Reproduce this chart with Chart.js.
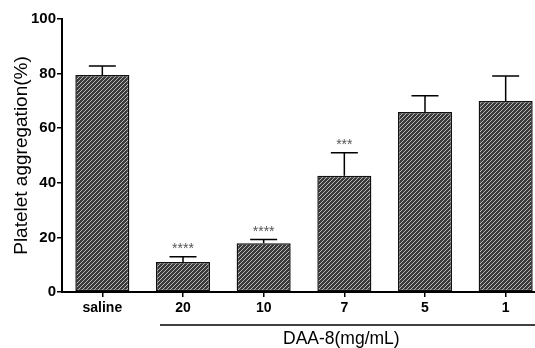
<!DOCTYPE html>
<html>
<head>
<meta charset="utf-8">
<script src="https://cdn.jsdelivr.net/npm/chart.js@4.4.0/dist/chart.umd.min.js"></script>
<style>
  html, body { margin: 0; padding: 0; background: #fff; overflow: hidden; }
  #wrap { width: 550px; height: 348px; }
</style>
</head>
<body>
<div id="wrap"><canvas id="chart" width="550" height="348"></canvas></div>
<script>
const categories = ['saline', '20', '10', '7', '5', '1'];
const meanValues = [79.5, 11.0, 17.9, 42.6, 65.9, 70.0];
const errorTops = [82.8, 12.9, 19.2, 51.0, 71.9, 79.1];
const marks = ['', '****', '****', '***', '', ''];
const yTicks = [0, 20, 40, 60, 80, 100];
const groupLabel = 'DAA-8(mg/mL)';

const FONT = 'Arial, "Liberation Sans", sans-serif';

// hatch pattern like the original ("/" stripes)
function makeHatch() {
    const c = document.createElement('canvas');
    c.width = 4; c.height = 4;
    const g = c.getContext('2d');
    g.fillStyle = '#3a3a3a';
    g.fillRect(0, 0, 4, 4);
    g.fillStyle = '#b8b8b8';
    for (let i = 0; i < 4; i++) g.fillRect(i, 3 - i, 1, 1);
    return g.createPattern(c, 'repeat');
}

const extras = {
    id: 'extras',
    afterDatasetsDraw(chart) {
        const ctx = chart.ctx;
        const x = chart.scales.x, y = chart.scales.y;
        const meta = chart.getDatasetMeta(0);
        ctx.save();
        ctx.strokeStyle = '#000';
        ctx.lineWidth = 1.5;
        meta.data.forEach((bar, i) => {
            const cx = bar.x;
            const top = y.getPixelForValue(errorTops[i]);
            ctx.beginPath();
            ctx.moveTo(cx, bar.y);
            ctx.lineTo(cx, top);
            ctx.moveTo(cx - 13.5, top);
            ctx.lineTo(cx + 13.5, top);
            ctx.stroke();
            if (marks[i]) {
                ctx.fillStyle = '#555';
                ctx.font = '14px ' + FONT;
                ctx.textAlign = 'center';
                ctx.textBaseline = 'alphabetic';
                ctx.fillText(marks[i], cx, top - 4);
            }
        });
        // group line and label
        const left = x.getPixelForValue(1) - 23;
        const right = chart.width;
        const lineY = 325;
        ctx.lineWidth = 1.5;
        ctx.beginPath();
        ctx.moveTo(left, lineY);
        ctx.lineTo(right, lineY);
        ctx.stroke();
        ctx.fillStyle = '#000';
        ctx.font = '17.5px ' + FONT;
        ctx.textAlign = 'center';
        ctx.textBaseline = 'middle';
        ctx.fillText(groupLabel, (x.getPixelForValue(1) + x.getPixelForValue(5)) / 2 - 3, 339);
        ctx.restore();
    }
};

new Chart(document.getElementById('chart'), {
    type: 'bar',
    data: {
        labels: categories,
        datasets: [{
            data: meanValues,
            backgroundColor: makeHatch(),
            borderColor: '#111',
            borderWidth: 1.5,
            borderSkipped: false,
            barPercentage: 0.67,
            categoryPercentage: 1
        }]
    },
    options: {
        responsive: false,
        animation: false,
        layout: { padding: { top: 19, right: 4, left: 0, bottom: 0 } },
        plugins: { legend: { display: false }, tooltip: { enabled: false } },
        scales: {
            x: {
                offset: true,
                border: { display: true, color: '#000', width: 2 },
                grid: { display: true, drawOnChartArea: false, offset: false, color: '#000', lineWidth: 1.5, tickLength: 5 },
                ticks: { color: '#000', padding: 3, font: { family: FONT, size: 14, weight: 'bold' } },
                afterFit: s => { s.height = 56; }
            },
            y: {
                min: 0,
                max: 100,
                afterBuildTicks: s => { s.ticks = yTicks.map(v => ({ value: v })); },
                border: { display: true, color: '#000', width: 2 },
                grid: { display: true, drawOnChartArea: false, color: '#000', lineWidth: 1.5, tickLength: 5 },
                ticks: { color: '#000', padding: 1, font: { family: FONT, size: 15, weight: 'bold' } },
                title: {
                    display: true,
                    text: 'Platelet aggregation(%)',
                    color: '#000',
                    font: { family: FONT, size: 19 },
                    padding: { top: 10, bottom: 2 }
                },
                afterFit: s => { s.width = 62; }
            }
        }
    },
    plugins: [extras]
});
</script>
</body>
</html>
